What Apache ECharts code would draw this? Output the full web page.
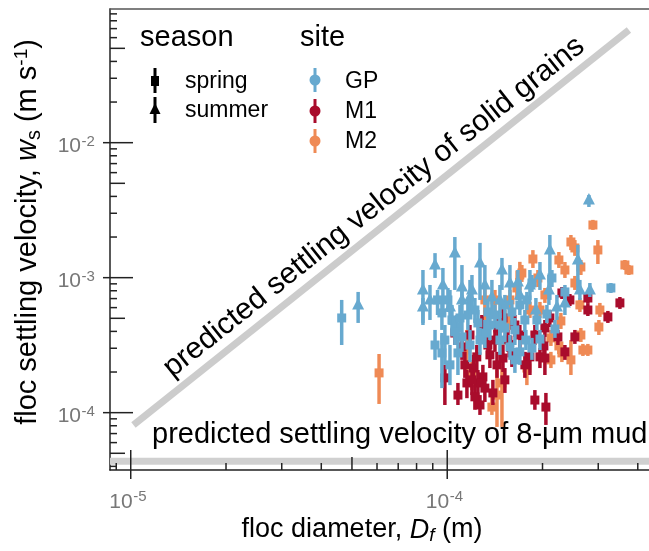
<!DOCTYPE html>
<html>
<head>
<meta charset="utf-8">
<script src="https://cdn.jsdelivr.net/npm/echarts@6/dist/echarts.min.js"></script>
<style>
  html, body { margin: 0; padding: 0; background: #fff; }
  #chart { width: 649px; height: 551px; }
</style>
</head>
<body>
<div id="chart"></div>
<script>
// each row: [floc diameter (m), settling velocity (m/s), lower bar, upper bar]
const gpSpring = [
  [4.64e-5, 5.03e-4, 3.17e-4, 6.84e-4], [9.62e-5, 5.48e-4, 4.10e-4, 6.84e-4],
  [1.035e-4, 4.86e-4, 3.76e-4, 6.28e-4], [9.62e-5, 2.77e-4, 1.52e-4, 3.89e-4],
  [1.081e-4, 2.77e-4, 1.90e-4, 4.46e-4], [1.250e-4, 4.62e-4, 3.45e-4, 5.76e-4],
  [1.162e-4, 5.29e-4, 4.10e-4, 6.84e-4], [1.315e-4, 3.89e-4, 3.01e-4, 4.86e-4],
  [1.467e-4, 3.45e-4, 2.68e-4, 4.24e-4], [1.578e-4, 3.07e-4, 2.46e-4, 3.76e-4],
  [1.636e-4, 4.10e-4, 3.17e-4, 5.03e-4], [1.415e-4, 5.29e-4, 4.24e-4, 6.28e-4],
  [1.601e-4, 5.57e-4, 4.46e-4, 6.84e-4], [1.269e-4, 3.45e-4, 2.68e-4, 4.24e-4],
  [1.113e-4, 3.64e-4, 2.82e-4, 4.70e-4], [1.073e-4, 4.31e-4, 3.45e-4, 5.29e-4],
  [1.057e-4, 3.96e-4, 3.17e-4, 5.03e-4], [1.852e-4, 9.13e-4, 7.84e-4, 1.047e-3],
  [2.354e-4, 7.84e-4, 6.84e-4, 8.83e-4], [3.289e-4, 8.39e-4, 7.70e-4, 9.13e-4],
  [2.142e-4, 9.95e-4, 8.53e-4, 1.14e-3], [2.065e-4, 5.38e-4, 4.62e-4, 6.28e-4],
  [1.920e-4, 4.86e-4, 4.10e-4, 5.76e-4], [2.189e-4, 4.17e-4, 3.58e-4, 4.86e-4],
  [1.963e-4, 3.51e-4, 2.91e-4, 4.10e-4], [1.852e-4, 3.01e-4, 2.46e-4, 3.58e-4],
  [1.364e-4, 4.46e-4, 3.45e-4, 5.57e-4], [1.521e-4, 4.24e-4, 3.34e-4, 5.29e-4],
  [1.759e-4, 4.86e-4, 3.96e-4, 5.76e-4], [9.83e-5, 3.45e-4, 2.26e-4, 4.46e-4],
  [1.180e-4, 3.17e-4, 2.37e-4, 4.10e-4], [1.696e-4, 2.82e-4, 2.26e-4, 3.45e-4],
  [9.32e-5, 6.84e-4, 5.29e-4, 8.11e-4], [1.005e-4, 6.84e-4, 5.57e-4, 8.39e-4],
  [1.521e-4, 6.28e-4, 5.29e-4, 7.45e-4], [1.696e-4, 6.28e-4, 5.29e-4, 7.19e-4],
  [1.785e-4, 6.84e-4, 5.76e-4, 7.84e-4], [1.097e-4, 5.03e-4, 3.96e-4, 6.28e-4],
  [1.223e-4, 5.76e-4, 4.62e-4, 7.07e-4], [1.344e-4, 5.57e-4, 4.46e-4, 6.84e-4],
  [1.467e-4, 4.46e-4, 3.58e-4, 5.48e-4], [1.772e-4, 3.45e-4, 2.91e-4, 4.10e-4],
  [1.636e-4, 2.46e-4, 1.97e-4, 3.01e-4], [1.020e-4, 2.26e-4, 1.60e-4, 3.17e-4],
  [9.15e-5, 3.17e-4, 2.46e-4, 4.10e-4]
]
const gpSummer = [
  [5.23e-5, 6.28e-4, 4.62e-4, 7.84e-4], [8.38e-5, 8.11e-4, 4.46e-4, 1.14e-3],
  [9.15e-5, 1.24e-3, 9.95e-4, 1.52e-3], [9.69e-5, 8.83e-4, 5.76e-4, 1.18e-3],
  [1.057e-4, 1.52e-3, 8.11e-4, 2.00e-3], [1.113e-4, 8.53e-4, 6.28e-4, 1.24e-3],
  [1.180e-4, 7.19e-4, 5.29e-4, 9.62e-4], [1.269e-4, 1.285e-3, 6.84e-4, 1.81e-3],
  [1.384e-4, 7.19e-4, 5.29e-4, 9.62e-4], [1.489e-4, 1.14e-3, 8.11e-4, 1.40e-3],
  [1.578e-4, 9.13e-4, 6.28e-4, 1.24e-3], [1.672e-4, 9.30e-4, 6.84e-4, 1.14e-3],
  [2.110e-4, 1.60e-3, 6.84e-4, 2.07e-3], [2.095e-4, 8.11e-4, 6.28e-4, 1.047e-3],
  [2.587e-4, 1.35e-3, 8.11e-4, 1.75e-3], [2.625e-4, 8.11e-4, 6.84e-4, 9.62e-4],
  [2.823e-4, 8.11e-4, 7.19e-4, 9.13e-4], [2.803e-4, 3.76e-3, 3.34e-3, 4.10e-3],
  [2.221e-4, 6.07e-4, 4.86e-4, 7.45e-4], [2.354e-4, 6.50e-4, 5.29e-4, 7.84e-4],
  [1.906e-4, 5.76e-4, 4.70e-4, 7.07e-4], [8.38e-5, 6.07e-4, 4.62e-4, 7.07e-4],
  [1.020e-4, 6.07e-4, 4.46e-4, 8.11e-4], [1.197e-4, 8.11e-4, 5.76e-4, 1.047e-3],
  [1.113e-4, 6.84e-4, 4.86e-4, 8.83e-4], [1.825e-4, 8.83e-4, 6.84e-4, 1.14e-3],
  [8.82e-5, 6.84e-4, 4.86e-4, 8.83e-4], [1.315e-4, 8.83e-4, 6.28e-4, 1.24e-3],
  [1.696e-4, 7.45e-4, 5.76e-4, 9.62e-4], [1.963e-4, 1.047e-3, 8.11e-4, 1.307e-3],
  [1.467e-4, 6.84e-4, 5.03e-4, 8.83e-4]
]
const m1Spring = [
  [9.83e-5, 1.81e-4, 1.14e-4, 2.26e-4], [1.057e-4, 3.89e-4, 3.17e-4, 4.86e-4],
  [1.113e-4, 3.07e-4, 2.46e-4, 3.76e-4], [1.154e-4, 1.66e-4, 1.28e-4, 2.07e-4],
  [1.210e-4, 2.14e-4, 1.75e-4, 2.68e-4], [1.240e-4, 2.59e-4, 2.07e-4, 3.17e-4],
  [1.296e-4, 1.84e-4, 1.42e-4, 2.26e-4], [1.250e-4, 1.66e-4, 1.28e-4, 2.07e-4],
  [1.394e-4, 1.40e-4, 1.14e-4, 1.75e-4], [1.315e-4, 1.52e-4, 1.20e-4, 1.90e-4],
  [1.436e-4, 2.26e-4, 1.81e-4, 2.82e-4], [1.287e-4, 4.46e-4, 3.64e-4, 5.29e-4],
  [1.446e-4, 4.24e-4, 3.45e-4, 5.03e-4], [1.500e-4, 5.03e-4, 4.10e-4, 5.97e-4],
  [1.415e-4, 3.45e-4, 2.82e-4, 4.10e-4], [1.555e-4, 3.45e-4, 2.82e-4, 4.10e-4],
  [1.500e-4, 2.54e-4, 2.00e-4, 3.17e-4], [1.601e-4, 2.77e-4, 2.18e-4, 3.45e-4],
  [1.197e-4, 1.75e-4, 1.35e-4, 2.14e-4], [1.223e-4, 1.31e-4, 1.05e-4, 1.60e-4],
  [1.892e-4, 1.24e-4, 1.05e-4, 1.47e-4], [2.050e-4, 1.10e-4, 8.11e-5, 1.40e-4],
  [1.825e-4, 2.59e-4, 1.90e-4, 3.17e-4], [1.963e-4, 2.59e-4, 2.14e-4, 3.01e-4],
  [2.035e-4, 2.54e-4, 1.90e-4, 3.01e-4], [1.892e-4, 3.76e-4, 3.17e-4, 4.46e-4],
  [2.020e-4, 3.12e-4, 2.63e-4, 3.70e-4], [2.035e-4, 4.24e-4, 3.64e-4, 4.86e-4],
  [2.237e-4, 3.64e-4, 3.17e-4, 4.10e-4], [2.531e-4, 3.64e-4, 3.23e-4, 4.10e-4],
  [2.303e-4, 7.70e-4, 6.95e-4, 8.53e-4], [2.441e-4, 6.84e-4, 6.17e-4, 7.57e-4],
  [2.782e-4, 7.07e-4, 6.39e-4, 7.84e-4], [2.782e-4, 5.76e-4, 5.20e-4, 6.39e-4],
  [3.218e-4, 5.12e-4, 4.62e-4, 5.67e-4], [3.512e-4, 6.50e-4, 5.87e-4, 7.19e-4],
  [1.696e-4, 3.76e-4, 3.01e-4, 4.46e-4], [1.759e-4, 2.26e-4, 1.81e-4, 2.82e-4],
  [1.364e-4, 2.68e-4, 2.14e-4, 3.34e-4], [1.137e-4, 2.26e-4, 1.81e-4, 2.82e-4],
  [1.180e-4, 3.76e-4, 3.17e-4, 4.46e-4], [1.344e-4, 3.17e-4, 2.59e-4, 3.76e-4],
  [1.636e-4, 4.46e-4, 3.64e-4, 5.29e-4], [1.269e-4, 1.14e-4, 9.62e-5, 1.35e-4],
  [1.081e-4, 1.35e-4, 1.14e-4, 1.66e-4], [1.521e-4, 1.75e-4, 1.40e-4, 2.14e-4],
  [2.110e-4, 5.03e-4, 4.31e-4, 5.76e-4], [2.354e-4, 2.82e-4, 2.46e-4, 3.17e-4]
]
const m2Spring = [
  [6.09e-5, 1.97e-4, 1.16e-4, 2.72e-4], [1.154e-4, 2.91e-4, 2.07e-4, 4.10e-4],
  [1.489e-4, 1.66e-4, 7.84e-5, 3.45e-4], [1.384e-4, 1.10e-4, 9.62e-5, 1.35e-4],
  [1.436e-4, 1.35e-4, 7.84e-5, 2.07e-4], [1.696e-4, 1.047e-3, 8.11e-4, 1.31e-3],
  [1.415e-4, 6.84e-4, 5.57e-4, 8.11e-4], [1.660e-4, 8.39e-4, 6.84e-4, 9.95e-4],
  [1.521e-4, 5.03e-4, 4.24e-4, 5.76e-4], [1.865e-4, 1.375e-3, 1.18e-3, 1.60e-3],
  [1.934e-4, 9.95e-4, 8.53e-4, 1.14e-3], [2.253e-4, 1.352e-3, 1.18e-3, 1.55e-3],
  [2.459e-4, 1.838e-3, 1.60e-3, 2.07e-3], [2.531e-4, 1.66e-3, 1.45e-3, 1.90e-3],
  [2.886e-4, 2.457e-3, 2.26e-3, 2.68e-3], [2.992e-4, 1.604e-3, 1.263e-3, 1.90e-3],
  [3.642e-4, 1.242e-3, 1.14e-3, 1.352e-3], [3.749e-4, 1.14e-3, 1.047e-3, 1.242e-3],
  [2.644e-4, 1.20e-3, 1.047e-3, 1.352e-3], [2.531e-4, 9.13e-4, 8.11e-4, 1.03e-3],
  [1.721e-4, 1.083e-3, 9.30e-4, 1.242e-3], [1.825e-4, 5.76e-4, 5.03e-4, 6.61e-4],
  [1.963e-4, 5.76e-4, 5.03e-4, 6.61e-4], [2.625e-4, 6.28e-4, 5.57e-4, 7.07e-4],
  [2.286e-4, 4.78e-4, 4.17e-4, 5.48e-4], [3.014e-4, 4.31e-4, 3.76e-4, 4.86e-4],
  [2.126e-4, 3.58e-4, 3.12e-4, 4.10e-4], [2.644e-4, 3.76e-4, 3.34e-4, 4.24e-4],
  [2.253e-4, 3.12e-4, 2.72e-4, 3.58e-4], [2.683e-4, 2.91e-4, 2.63e-4, 3.23e-4],
  [2.782e-4, 2.91e-4, 2.63e-4, 3.23e-4], [2.303e-4, 2.77e-4, 2.37e-4, 3.17e-4],
  [2.126e-4, 2.46e-4, 2.14e-4, 2.82e-4], [2.459e-4, 2.46e-4, 1.90e-4, 3.45e-4],
  [1.785e-4, 2.14e-4, 1.60e-4, 2.68e-4], [1.578e-4, 6.84e-4, 5.57e-4, 8.11e-4],
  [1.315e-4, 6.84e-4, 5.57e-4, 8.39e-4], [1.315e-4, 4.86e-4, 4.10e-4, 5.76e-4],
  [1.578e-4, 4.86e-4, 4.10e-4, 5.76e-4], [1.197e-4, 1.90e-4, 1.47e-4, 2.46e-4],
  [2.035e-4, 7.45e-4, 6.50e-4, 8.39e-4], [2.354e-4, 1.14e-3, 9.95e-4, 1.307e-3],
  [3.036e-4, 5.76e-4, 5.12e-4, 6.50e-4]
]

// predicted lines
const solidGrainsLine = [[1.02e-5, 8.11e-5], [3.75e-4, 6.84e-2]]
const mud8umVelocity = 4.36e-5

// axis ranges and tick values
const X_MIN = 8.6e-6, X_MAX = 4.34e-4
const Y_MIN = 3.76e-5, Y_MAX = 9.78e-2
const xMajorTicks = [1e-5, 1e-4]
const xMinorTicks = [9e-6, 2e-5, 3e-5, 4e-5, 6e-5, 7e-5, 8e-5, 9e-5, 2e-4, 3e-4, 4e-4]
const xMidTicks = [5e-5]
const yMajorTicks = [1e-4, 1e-3, 1e-2]
const yMinorTicks = [4e-5, 6e-5, 7e-5, 8e-5, 9e-5, 2e-4, 3e-4, 4e-4, 6e-4, 7e-4, 8e-4, 9e-4,
  2e-3, 3e-3, 4e-3, 6e-3, 7e-3, 8e-3, 9e-3, 2e-2, 3e-2, 4e-2, 6e-2, 7e-2, 8e-2, 9e-2]
const yMidTicks = [5e-5, 5e-4, 5e-3, 5e-2]

const COLORS = { GP: '#67A9CF', M1: '#A90C2C', M2: '#EF8A55' }
const FONT = '"Liberation Sans", Arial, sans-serif'
const AXIS = '#222'
const GRAY_TEXT = '#777'

const chart = echarts.init(document.getElementById('chart'))

const pointRange = (shape, color) => (params, api) => {
  const x = api.value(0)
  const c = api.coord([x, api.value(1)])
  const lo = api.coord([x, api.value(2)])
  const hi = api.coord([x, api.value(3)])
  const kids = [{
    type: 'line',
    shape: { x1: c[0], y1: lo[1], x2: c[0], y2: hi[1] },
    style: { stroke: color, lineWidth: 3.5 }
  }]
  if (shape === 'square') {
    kids.push({ type: 'rect', shape: { x: c[0] - 4.5, y: c[1] - 4.5, width: 9, height: 9 }, style: { fill: color } })
  } else {
    kids.push({
      type: 'polygon',
      shape: { points: [[c[0], c[1] - 7], [c[0] + 6, c[1] + 4.5], [c[0] - 6, c[1] + 4.5]] },
      style: { fill: color }
    })
  }
  return { type: 'group', children: kids }
}

const xTicks = (up, down) => (params, api) => {
  const px = api.coord([api.value(0), Y_MIN])[0]
  const base = params.coordSys.y + params.coordSys.height
  return {
    type: 'line',
    shape: { x1: px, y1: base + down, x2: px, y2: base - up },
    style: { stroke: AXIS, lineWidth: 1.5 }
  }
}

const yTicks = (inner, outer) => (params, api) => {
  const py = api.coord([X_MIN, api.value(1)])[1]
  const base = params.coordSys.x
  return {
    type: 'line',
    shape: { x1: base - outer, y1: py, x2: base + inner, y2: py },
    style: { stroke: AXIS, lineWidth: 1.5 }
  }
}

const tickSeries = (data, render) => ({
  type: 'custom', coordinateSystem: 'cartesian2d', silent: true, clip: false,
  data, renderItem: render, z: 5
})

// "10" plus a raised exponent, as two plain text pieces
const powerLabel = (v, x, y) => {
  const exp = String(Math.round(Math.log10(v)))
  return [
    { type: 'text', x, y, style: { text: '10', fontSize: 21, fontFamily: FONT, fill: GRAY_TEXT, align: 'right', verticalAlign: 'middle' } },
    { type: 'text', x: x + 0.5, y: y - 5, style: { text: exp, fontSize: 15, fontFamily: FONT, fill: GRAY_TEXT, align: 'left', verticalAlign: 'middle' } }
  ]
}

// legend (drawn as graphic, matches the two-column key)
const legendItem = (kind, cx, cy, y1, y2, color) => {
  const items = [{ type: 'line', shape: { x1: cx, y1, x2: cx, y2 }, style: { stroke: color, lineWidth: 3 } }]
  if (kind === 'square') items.push({ type: 'rect', shape: { x: cx - 4, y: cy - 5, width: 8, height: 10 }, style: { fill: color } })
  if (kind === 'triangle') items.push({ type: 'polygon', shape: { points: [[cx, cy - 7], [cx + 5.5, cy + 4], [cx - 5.5, cy + 4]] }, style: { fill: color } })
  if (kind === 'circle') items.push({ type: 'circle', shape: { cx, cy, r: 5.5 }, style: { fill: color } })
  return items
}
const legendText = (text, x, y, size) => ({
  type: 'text', x, y,
  style: { text, fontSize: size, fontFamily: FONT, fill: '#000', align: 'left', verticalAlign: 'middle' }
})

const graphics = [
  legendText('season', 140, 38, 29),
  legendText('site', 300, 38, 29),
  legendText('spring', 185, 82, 23),
  legendText('summer', 185, 111, 23),
  legendText('GP', 345, 82, 23),
  legendText('M1', 345, 112, 23),
  legendText('M2', 345, 142, 23),
  ...legendItem('square', 155, 81, 68, 93, '#000'),
  ...legendItem('triangle', 155, 110, 97, 123, '#000'),
  ...legendItem('circle', 315, 80, 68, 92, COLORS.GP),
  ...legendItem('circle', 315, 111, 99, 123, COLORS.M1),
  ...legendItem('circle', 315, 141, 129, 153, COLORS.M2),
  {
    type: 'text', x: 374, y: 207, rotation: 38.47 * Math.PI / 180,
    style: { text: 'predicted settling velocity of solid grains', fontSize: 30, fontFamily: FONT, fill: '#000', align: 'center', verticalAlign: 'middle' }
  },
  {
    type: 'text', x: 152, y: 435,
    style: { text: 'predicted settling velocity of 8-μm mud', fontSize: 29, fontFamily: FONT, fill: '#000', align: 'left', verticalAlign: 'middle' }
  },
  {
    type: 'text', x: 362, y: 530,
    style: {
      text: '{n|floc diameter, }{i|D}{s|f}{n| (m)}', align: 'center', verticalAlign: 'middle',
      rich: {
        n: { fontSize: 27, lineHeight: 30, fontFamily: FONT, color: '#000' },
        i: { fontSize: 27, lineHeight: 30, fontFamily: FONT, fontStyle: 'italic', color: '#000' },
        s: { fontSize: 19, lineHeight: 19, fontFamily: FONT, fontStyle: 'italic', color: '#000', verticalAlign: 'bottom' }
      }
    }
  },
  {
    type: 'text', x: 28, y: 232, rotation: Math.PI / 2,
    style: {
      text: '{n|floc settling velocity, }{i|w}{s|s}{n| (m s}{p|-1}{n|)}', align: 'center', verticalAlign: 'middle',
      rich: {
        n: { fontSize: 29, lineHeight: 32, fontFamily: FONT, color: '#000' },
        i: { fontSize: 29, lineHeight: 32, fontFamily: FONT, fontStyle: 'italic', color: '#000' },
        s: { fontSize: 20, lineHeight: 20, fontFamily: FONT, color: '#000', verticalAlign: 'bottom' },
        p: { fontSize: 19, lineHeight: 19, fontFamily: FONT, color: '#000', verticalAlign: 'top' }
      }
    }
  }
]

const option = {
  animation: false,
  backgroundColor: '#fff',
  grid: { left: 110, top: 9, right: 0, bottom: 81 },
  xAxis: [
    {
      type: 'log', min: X_MIN, max: X_MAX,
      axisLine: { show: true, lineStyle: { color: AXIS, width: 1.5 } },
      axisTick: { show: false }, axisLabel: { show: false }, splitLine: { show: false }
    },
    {
      type: 'log', position: 'top', min: X_MIN, max: X_MAX,
      axisLine: { show: true, lineStyle: { color: '#555', width: 1.5 } },
      axisTick: { show: false }, axisLabel: { show: false }, splitLine: { show: false }
    }
  ],
  yAxis: {
    type: 'log', min: Y_MIN, max: Y_MAX,
    axisLine: { show: true, lineStyle: { color: AXIS, width: 1.5 } },
    axisTick: { show: false }, axisLabel: { show: false }, splitLine: { show: false }
  },
  graphic: graphics,
  series: [
    {
      type: 'line', data: [[X_MIN, mud8umVelocity], [X_MAX, mud8umVelocity]],
      showSymbol: false, silent: true, lineStyle: { color: '#d0d0d0', width: 7 }, z: 1
    },
    {
      type: 'line', data: solidGrainsLine,
      showSymbol: false, silent: true, lineStyle: { color: '#cccccc', width: 7, cap: 'butt' }, z: 1
    },
    { type: 'custom', name: 'M2', data: m2Spring, renderItem: pointRange('square', COLORS.M2), z: 2 },
    { type: 'custom', name: 'M1', data: m1Spring, renderItem: pointRange('square', COLORS.M1), z: 2 },
    { type: 'custom', name: 'GP spring', data: gpSpring, renderItem: pointRange('square', COLORS.GP), z: 2 },
    { type: 'custom', name: 'GP summer', data: gpSummer, renderItem: pointRange('triangle', COLORS.GP), z: 2 },
    tickSeries(xMajorTicks.map(v => [v, Y_MIN]), xTicks(20, 9)),
    tickSeries(xMinorTicks.map(v => [v, Y_MIN]), xTicks(7, 0)),
    tickSeries(xMidTicks.map(v => [v, Y_MIN]), xTicks(13, 0)),
    tickSeries(yMajorTicks.map(v => [X_MIN, v]), yTicks(23, 7)),
    tickSeries(yMinorTicks.map(v => [X_MIN, v]), yTicks(7, 0)),
    tickSeries(yMidTicks.map(v => [X_MIN, v]), yTicks(15, 0))
  ]
}

chart.setOption(option)

// tick labels placed through the axes' own scales
const tickLabels = []
xMajorTicks.forEach(v => {
  const px = chart.convertToPixel({ xAxisIndex: 0 }, v)
  tickLabels.push(...powerLabel(v, px + 2, 502))
})
yMajorTicks.forEach(v => {
  const py = chart.convertToPixel({ yAxisIndex: 0 }, v)
  tickLabels.push(...powerLabel(v, 81, py + 4))
})
chart.setOption({ graphic: graphics.concat(tickLabels) })
</script>
</body>
</html>
